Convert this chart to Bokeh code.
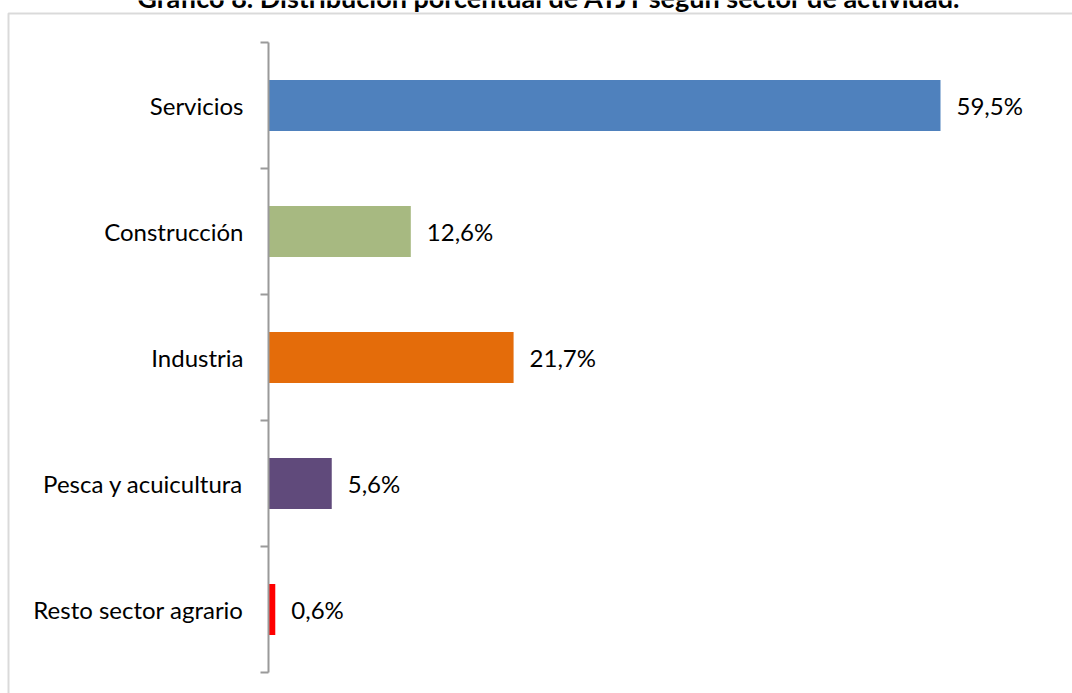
from bokeh.plotting import figure
from bokeh.models import Range1d, FixedTicker, Label, BoxAnnotation, ColumnDataSource
from bokeh.core.properties import value
from bokeh.embed import file_html
from bokeh.resources import INLINE

title = "Gráfico 8. Distribución porcentual de ATJT según sector de actividad."
categories = ["Servicios", "Construcción", "Industria", "Pesca y acuicultura", "Resto sector agrario"]
values = [59.5, 12.6, 21.7, 5.6, 0.6]
labels = ["59,5%", "12,6%", "21,7%", "5,6%", "0,6%"]
colors = ["#4F81BD", "#A7B981", "#E46C0A", "#604A7B", "#FF0000"]

FONT = "Lato"
W, H = 1072, 693
n = len(categories)
ypos = [n - i - 0.5 for i in range(n)]
src = ColumnDataSource(dict(cat=categories, val=values, y=ypos, color=colors, label=labels))

# pixel layout of the plotting area inside the canvas
AX_X, PX_PER_PCT = 268, 672 / 59.5      # zero line and horizontal scale
TOP_Y, BOT_Y = 42, 672                  # vertical extent of the category axis
PX_PER_CAT = (BOT_Y - TOP_Y) / n

x_range = Range1d(-AX_X / PX_PER_PCT, (W - AX_X) / PX_PER_PCT)
y_range = Range1d(-(H - BOT_Y) / PX_PER_CAT, n + TOP_Y / PX_PER_CAT)

p = figure(width=W, height=H, output_backend="svg", toolbar_location=None,
           x_range=x_range, y_range=y_range,
           x_axis_location=None, y_axis_location="left",
           min_border_left=0, min_border_right=0, min_border_top=0, min_border_bottom=0)
p.outline_line_color = None
p.grid.visible = False
p.background_fill_color = "white"
p.border_fill_color = "white"

ax = p.yaxis[0]
ax.fixed_location = 0
ax.bounds = (0, n)
ax.ticker = FixedTicker(ticks=ypos, minor_ticks=[float(k) for k in range(n + 1)])
ax.major_label_overrides = {y: c for y, c in zip(ypos, categories)}
ax.major_tick_out = 0
ax.major_tick_in = 0
ax.major_tick_line_color = None
ax.minor_tick_out = 8
ax.minor_tick_in = 0
ax.minor_tick_line_color = "#9a9a9a"
ax.minor_tick_line_width = 2
ax.axis_line_color = "#9a9a9a"
ax.axis_line_width = 2
ax.major_label_standoff = 17
ax.major_label_text_font = FONT
ax.major_label_text_font_size = "24px"
ax.major_label_text_color = "#000000"

p.hbar(y="y", left=0, right="val", height=0.405, color="color", line_color=None, source=src)
p.text(x="val", y="y", text="label", x_offset=16, text_baseline="middle", text_align="left",
       text_font=value(FONT), text_font_size="24px", text_color="#000000", source=src)

# chart title (cut by the top edge, as in the source image)
p.add_layout(Label(x=549, y=H + 3, x_units="screen", y_units="screen", text=title,
                   text_align="center", text_baseline="alphabetic", text_font=FONT,
                   text_font_style="bold", text_font_size="27px", text_color="#000000"))

# outer chart-area border (left and top edges visible)
p.add_layout(BoxAnnotation(left=8, right=W + 50, top=13, bottom=H + 50,
                           left_units="canvas", right_units="canvas",
                           top_units="canvas", bottom_units="canvas",
                           fill_alpha=0, line_color="#868686", line_width=2))

open("out.html", "w").write(file_html(p, INLINE))
